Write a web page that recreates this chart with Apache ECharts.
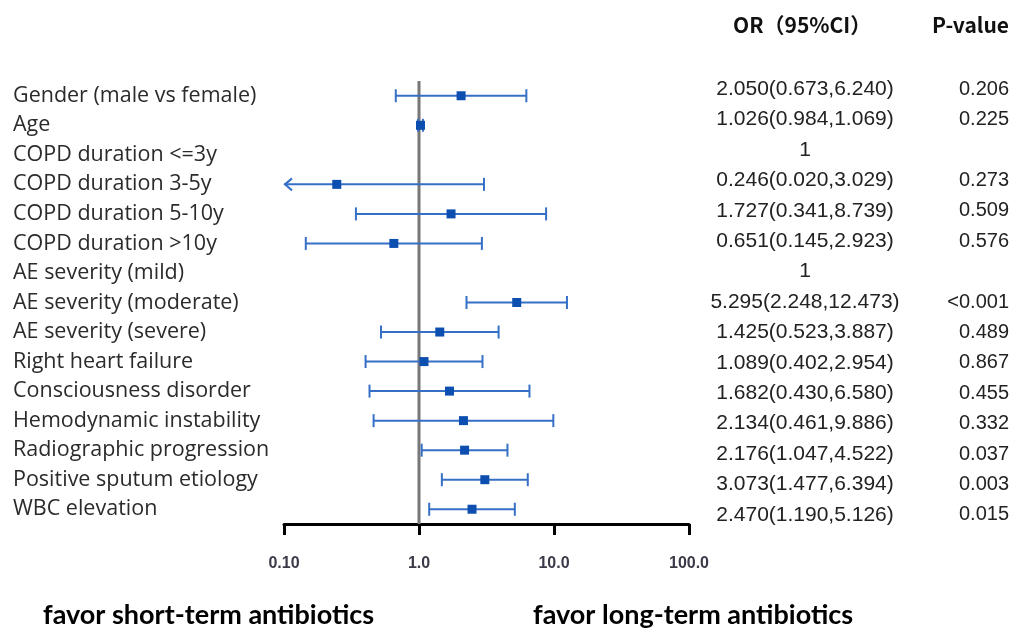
<!DOCTYPE html>
<html>
<head>
<meta charset="utf-8">
<style>
  html, body { margin: 0; padding: 0; background: #fff; }
  #chart { width: 1015px; height: 632px; }
</style>
</head>
<body>
<div id="chart"></div>
<script src="https://cdn.jsdelivr.net/npm/echarts@6/dist/echarts.min.js"></script>
<script>
const labels = [
  'Gender (male vs female)', 'Age', 'COPD duration <=3y', 'COPD duration 3-5y',
  'COPD duration 5-10y', 'COPD duration >10y', 'AE severity (mild)',
  'AE severity (moderate)', 'AE severity (severe)', 'Right heart failure',
  'Consciousness disorder', 'Hemodynamic instability', 'Radiographic progression',
  'Positive sputum etiology', 'WBC elevation'
];
const oddsRatio = [2.050, 1.026, null, 0.246, 1.727, 0.651, null, 5.295, 1.425, 1.089, 1.682, 2.134, 2.176, 3.073, 2.470];
const ciLow = [0.673, 0.984, null, 0.020, 0.341, 0.145, null, 2.248, 0.523, 0.402, 0.430, 0.461, 1.047, 1.477, 1.190];
const ciHigh = [6.240, 1.069, null, 3.029, 8.739, 2.923, null, 12.473, 3.887, 2.954, 6.580, 9.886, 4.522, 6.394, 5.126];
const orText = [
  '2.050(0.673,6.240)', '1.026(0.984,1.069)', '1', '0.246(0.020,3.029)',
  '1.727(0.341,8.739)', '0.651(0.145,2.923)', '1', '5.295(2.248,12.473)',
  '1.425(0.523,3.887)', '1.089(0.402,2.954)', '1.682(0.430,6.580)',
  '2.134(0.461,9.886)', '2.176(1.047,4.522)', '3.073(1.477,6.394)', '2.470(1.190,5.126)'
];
const pText = ['0.206', '0.225', '', '0.273', '0.509', '0.576', '', '<0.001', '0.489', '0.867', '0.455', '0.332', '0.037', '0.003', '0.015'];
const xTickLabels = ['0.10', '1.0', '10.0', '100.0'];
const xMin = 0.1, xMax = 100;
const refValue = 1;

const chart = echarts.init(document.getElementById('chart'));

// rows with an estimate only (reference rows have none)
const rows = [];
oddsRatio.forEach((v, i) => {
  if (v != null) rows.push([v, ciLow[i], ciHigh[i], i]);
});

const lineColor = '#3570c6';
const boxColor = '#0c4fb0';

function renderRow(params, api) {
  const i = api.value(3);
  const lo = api.value(1);
  const clipped = lo < xMin;
  const pLo = api.coord([clipped ? xMin : lo, i]);
  const pHi = api.coord([api.value(2), i]);
  const pMid = api.coord([api.value(0), i]);
  const y = pMid[1];
  const cap = 6.5;
  const style = { stroke: lineColor, lineWidth: 2, fill: null };
  const kids = [
    { type: 'line', shape: { x1: pLo[0], y1: y, x2: pHi[0], y2: y }, style: style },
    { type: 'line', shape: { x1: pHi[0], y1: y - cap, x2: pHi[0], y2: y + cap }, style: style }
  ];
  if (clipped) {
    kids.push({ type: 'polyline', shape: { points: [[pLo[0] + 8, y - 6], [pLo[0] + 1, y], [pLo[0] + 8, y + 6]] }, style: style });
  } else {
    kids.push({ type: 'line', shape: { x1: pLo[0], y1: y - cap, x2: pLo[0], y2: y + cap }, style: style });
  }
  kids.push({ type: 'rect', shape: { x: pMid[0] - 4.5, y: y - 4.5, width: 9, height: 9 }, style: { fill: boxColor } });
  return { type: 'group', children: kids };
}

// vertical no-effect line at OR = 1, full height of the plot
function renderRef(params, api) {
  const cs = params.coordSys;
  const x = api.coord([api.value(0), 0])[0];
  return {
    type: 'line',
    shape: { x1: x, y1: cs.y, x2: x, y2: cs.y + cs.height },
    style: { stroke: '#777', lineWidth: 3 }
  };
}

const option = {
  backgroundColor: '#fff',
  animation: false,
  grid: [
    { left: 284, right: 326, top: 81, bottom: 108 },
    { left: 689, width: 1, top: 74, bottom: 102 }
  ],
  xAxis: [
    {
      gridIndex: 0,
      type: 'log',
      logBase: 10,
      min: xMin,
      max: xMax,
      splitNumber: 3,
      splitLine: { show: false },
      axisLine: { show: true, lineStyle: { color: '#000', width: 3 } },
      axisTick: { show: true, length: 11, lineStyle: { color: '#000', width: 3 } },
      minorTick: { show: false },
      axisLabel: {
        margin: 32,
        fontFamily: 'Liberation Sans, Arial, sans-serif',
        fontSize: 16,
        fontWeight: 'bold',
        color: '#3a3a48',
        formatter: (v, idx) => xTickLabels[idx]
      }
    },
    { gridIndex: 1, type: 'value', show: false, min: 0, max: 1 }
  ],
  yAxis: [
    {
      gridIndex: 0,
      type: 'category',
      data: labels,
      inverse: true,
      axisLine: { show: false },
      axisTick: { show: false },
      splitLine: { show: false },
      axisLabel: {
        align: 'left',
        margin: 271,
        fontFamily: 'Open Sans, sans-serif',
        fontSize: 21.5,
        color: '#2b2b2b'
      }
    },
    {
      gridIndex: 1,
      type: 'category',
      data: labels,
      inverse: true,
      position: 'right',
      axisLine: { show: false },
      axisTick: { show: false },
      splitLine: { show: false },
      axisLabel: {
        align: 'left',
        margin: 0,
        formatter: (v, idx) => '{or|' + orText[idx] + '}{p|' + pText[idx] + '}',
        rich: {
          or: { width: 230, align: 'center', fontFamily: 'Liberation Sans, Arial, sans-serif', fontSize: 21, color: '#222' },
          p: { width: 89, align: 'right', fontFamily: 'Liberation Sans, Arial, sans-serif', fontSize: 20, color: '#222' }
        }
      }
    }
  ],
  series: [
    {
      type: 'custom',
      xAxisIndex: 0,
      yAxisIndex: 0,
      data: [[refValue, 0]],
      renderItem: renderRef,
      encode: { x: 0, y: 1 },
      z: 2,
      silent: true
    },
    {
      type: 'custom',
      xAxisIndex: 0,
      yAxisIndex: 0,
      data: rows,
      dimensions: ['or', 'lo', 'hi', 'row'],
      encode: { x: [0, 1, 2], y: 3 },
      renderItem: renderRow,
      z: 3
    }
  ],
  graphic: [
    {
      type: 'text', left: 733, top: 15,
      style: { text: 'OR（95%CI）', font: 'bold 21px "Noto Sans CJK SC", sans-serif', fill: '#111' }
    },
    {
      type: 'text', left: 932, top: 15,
      style: { text: 'P-value', font: 'bold 21px "Noto Sans CJK SC", sans-serif', fill: '#111' }
    },
    {
      type: 'text', left: 43, top: 602,
      style: { text: 'favor short-term antibiotics', font: 'bold 27px Lato, sans-serif', fill: '#000' }
    },
    {
      type: 'text', left: 533, top: 602,
      style: { text: 'favor long-term antibiotics', font: 'bold 27px Lato, sans-serif', fill: '#000' }
    }
  ]
};

chart.setOption(option);
</script>
</body>
</html>
